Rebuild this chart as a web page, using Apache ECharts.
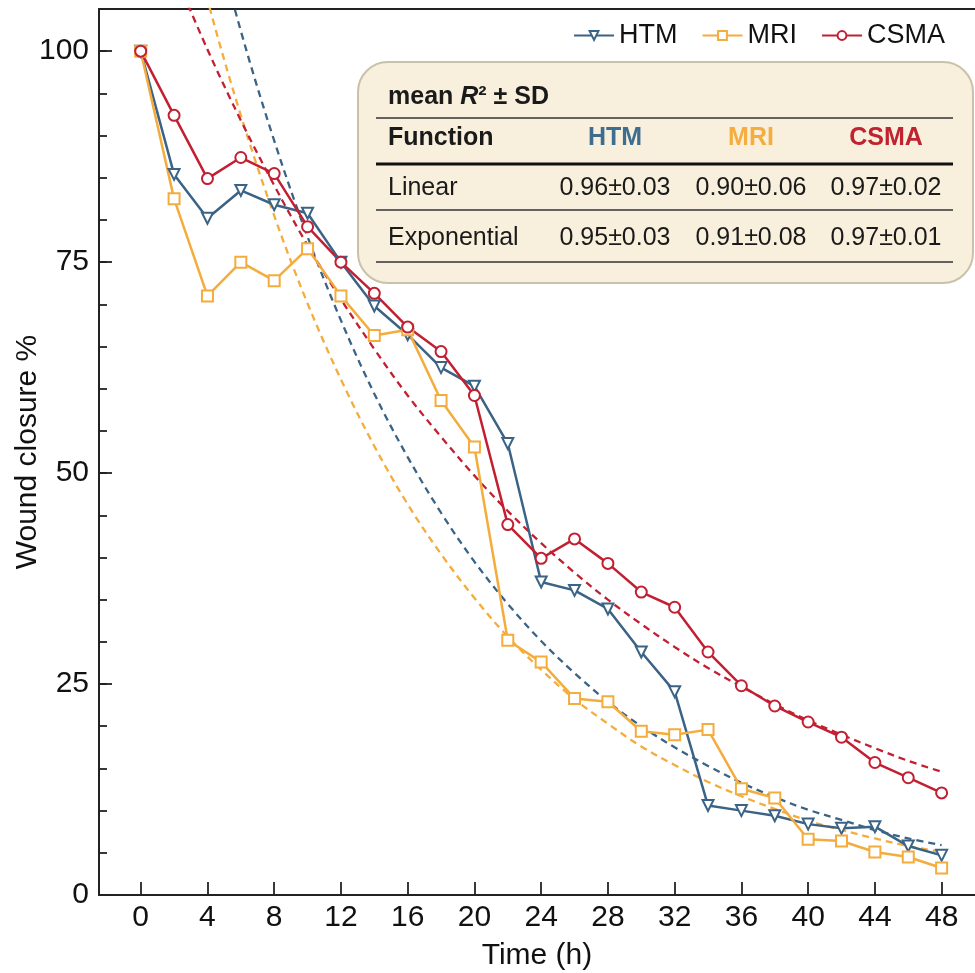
<!DOCTYPE html>
<html>
<head>
<meta charset="utf-8">
<script src="https://cdn.jsdelivr.net/npm/echarts@6/dist/echarts.min.js"></script>
<style>
html,body{margin:0;padding:0;background:#fff;}
#chart{width:975px;height:973px;}
</style>
</head>
<body>
<div id="chart"></div>
<script>
// ---- data ----
var time = [0,2,4,6,8,10,12,14,16,18,20,22,24,26,28,30,32,34,36,38,40,42,44,46,48];
var htm  = [100,85.4,80.2,83.5,81.8,80.8,75.0,69.8,66.4,62.5,60.3,53.5,37.1,36.1,33.9,28.8,24.1,10.6,10.0,9.4,8.4,7.9,8.1,5.8,4.7];
var mri  = [100,82.5,71.0,75.0,72.8,76.6,71.0,66.3,67.0,58.6,53.1,30.2,27.6,23.3,22.9,19.4,19.0,19.6,12.6,11.5,6.6,6.4,5.1,4.5,3.2];
var csma = [100,92.4,84.9,87.4,85.5,79.2,75.0,71.3,67.3,64.4,59.2,43.9,39.9,42.2,39.3,35.9,34.1,28.8,24.8,22.4,20.5,18.7,15.7,13.9,12.1];

var fitTime = [2,4,6,8,10,12,14,16,18,20,22,24,26,28,30,32,34,36,38,40,42,44,46,48];
var htmFit  = [null,117.3,102.4,89.4,78.0,68.1,59.4,51.9,45.3,39.5,34.5,30.1,26.3,22.9,20.0,17.5,15.3,13.3,11.6,10.1,8.9,7.7,6.7,5.9];
var mriFit  = [121.8,106.1,92.4,80.5,70.1,61.1,53.2,46.3,40.4,35.2,30.6,26.7,23.2,20.3,17.6,15.4,13.4,11.7,10.2,8.8,7.7,6.7,5.8,5.1];
var csmaFit = [109.4,100.2,91.8,84.1,77.0,70.6,64.7,59.2,54.3,49.7,45.5,41.7,38.2,35.0,32.1,29.4,26.9,24.7,22.6,20.7,19.0,17.4,15.9,14.6];

var xTicks = [0,4,8,12,16,20,24,28,32,36,40,44,48];
var yTicks = [0,25,50,75,100];

var seriesNames = ['HTM','MRI','CSMA'];
var tableHeader = ['Function','HTM','MRI','CSMA'];
var tableRows = [
  ['Linear','0.96±0.03','0.90±0.06','0.97±0.02'],
  ['Exponential','0.95±0.03','0.91±0.08','0.97±0.01']
];

// ---- styles ----
var FONT = '"Liberation Sans", Arial, sans-serif';
var C_HTM = '#3b6385', C_MRI = '#f4ac3c', C_CSMA = '#c22032';
var headColors = ['#1a1a1a', '#3e6d90', '#f5ad3f', '#c0232f'];

function pairs(xs, ys){ return xs.map(function(x,i){ return [x, ys[i]]; }); }

var chart = echarts.init(document.getElementById('chart'), null, {renderer:'canvas'});

function dataSeries(name, ys, color, symbol, rotate){
  return {
    name: name, type: 'line', xAxisIndex: 0, yAxisIndex: 0,
    data: pairs(time, ys),
    symbol: symbol, symbolSize: 11, symbolRotate: rotate || 0,
    lineStyle: {color: color, width: 2.5},
    itemStyle: {color: color, borderColor: color, borderWidth: 2.2},
    z: 3, animation: false
  };
}
function fitSeries(ys, color){
  return {
    type: 'line', xAxisIndex: 0, yAxisIndex: 0,
    data: pairs(fitTime, ys),
    showSymbol: false, symbol: 'none', smooth: 0.35, clip: true,
    lineStyle: {color: color, width: 2.3, type: [7,5]},
    z: 2, animation: false, silent: true
  };
}

// table graphics
var colX = [388, 615, 751, 886];
var rowY = [138, 188, 238];
var g = [];
g.push({type:'rect', shape:{x:358, y:62, width:615, height:221, r:30},
  style:{fill:'#f8f0dd', stroke:'#c9c1aa', lineWidth:2}, z:10});
g.push({type:'text', x:388, y:97, z:11, style:{
  text:'{b|mean }{i|R}{b|² ± SD}', textVerticalAlign:'middle', verticalAlign:'middle',
  rich:{ b:{fontFamily:FONT, fontSize:25, fontWeight:'bold', fill:'#1a1a1a', color:'#1a1a1a'},
         i:{fontFamily:FONT, fontSize:25, fontWeight:'bold', fontStyle:'italic', fill:'#1a1a1a', color:'#1a1a1a'} }
}});
var lines = [[118,1.6,'#333'],[164,3.2,'#111'],[210,1.6,'#333'],[262,1.6,'#333']];
lines.forEach(function(l){
  g.push({type:'line', shape:{x1:376,y1:l[0],x2:953,y2:l[0]}, style:{stroke:l[2], lineWidth:l[1]}, z:11});
});
tableHeader.forEach(function(t,j){
  g.push({type:'text', x:colX[j], y:rowY[0], z:11, style:{
    text:t, fontFamily:FONT, fontSize:25, fontWeight:'bold', fill:headColors[j],
    textAlign: j===0?'left':'center', textVerticalAlign:'middle', align: j===0?'left':'center', verticalAlign:'middle'}});
});
tableRows.forEach(function(row,i){
  row.forEach(function(t,j){
    g.push({type:'text', x:colX[j], y:rowY[i+1], z:11, style:{
      text:t, fontFamily:FONT, fontSize:25, fill:'#1a1a1a',
      textAlign: j===0?'left':'center', textVerticalAlign:'middle', align: j===0?'left':'center', verticalAlign:'middle'}});
  });
});

var option = {
  backgroundColor: '#fff',
  animation: false,
  grid: {left: 99, right: 0, top: 9, bottom: 78, containLabel: false, outerBoundsMode: 'none'},
  legend: {
    data: seriesNames, right: 25, top: 17,
    itemWidth: 40, itemHeight: 11, itemGap: 24,
    textStyle: {fontFamily: FONT, fontSize: 27, color: '#111'},
    selectedMode: false
  },
  graphic: g,
  xAxis: [{
    type: 'value', min: -2.5, max: 50, position: 'bottom',
    name: 'Time (h)', nameLocation: 'middle', nameGap: 46, nameMoveOverlap: false,
    nameTextStyle: {fontFamily: FONT, fontSize: 30, color: '#111'},
    axisLine: {show: true, onZero: false, lineStyle: {color: '#222', width: 2}},
    axisTick: {show: true, inside: true, length: 13, customValues: xTicks, lineStyle: {color: '#222', width: 1.8}},
    axisLabel: {show: true, customValues: xTicks, margin: 8, fontFamily: FONT, fontSize: 30, color: '#111'},
    splitLine: {show: false}
  },{
    type: 'value', min: -2.5, max: 50, position: 'top',
    axisLine: {show: true, onZero: false, lineStyle: {color: '#222', width: 2}},
    axisTick: {show: false}, axisLabel: {show: false}, splitLine: {show: false}
  }],
  yAxis: [{
    type: 'value', min: 0, max: 105, position: 'left',
    name: 'Wound closure %', nameLocation: 'middle', nameGap: 56, nameMoveOverlap: false,
    nameTextStyle: {fontFamily: FONT, fontSize: 30, color: '#111'},
    axisLine: {show: true, onZero: false, lineStyle: {color: '#222', width: 2}},
    axisTick: {show: true, inside: true, length: 13, customValues: yTicks, lineStyle: {color: '#222', width: 1.8}},
    axisLabel: {show: true, customValues: yTicks, margin: 10, fontFamily: FONT, fontSize: 30, color: '#111'},
    splitLine: {show: false}
  },{
    type: 'value', min: 0, max: 105, interval: 5, position: 'left', offset: 0,
    axisLine: {show: false, onZero: false},
    axisTick: {show: true, inside: true, length: 8, lineStyle: {color: '#222', width: 1.8}},
    axisLabel: {show: false}, splitLine: {show: false}
  }],
  series: [
    fitSeries(htmFit, C_HTM),
    fitSeries(mriFit, C_MRI),
    fitSeries(csmaFit, C_CSMA),
    dataSeries('HTM', htm, C_HTM, 'emptyTriangle', 180),
    dataSeries('MRI', mri, C_MRI, 'emptyRect'),
    dataSeries('CSMA', csma, C_CSMA, 'emptyCircle')
  ]
};
chart.setOption(option);
</script>
</body>
</html>
